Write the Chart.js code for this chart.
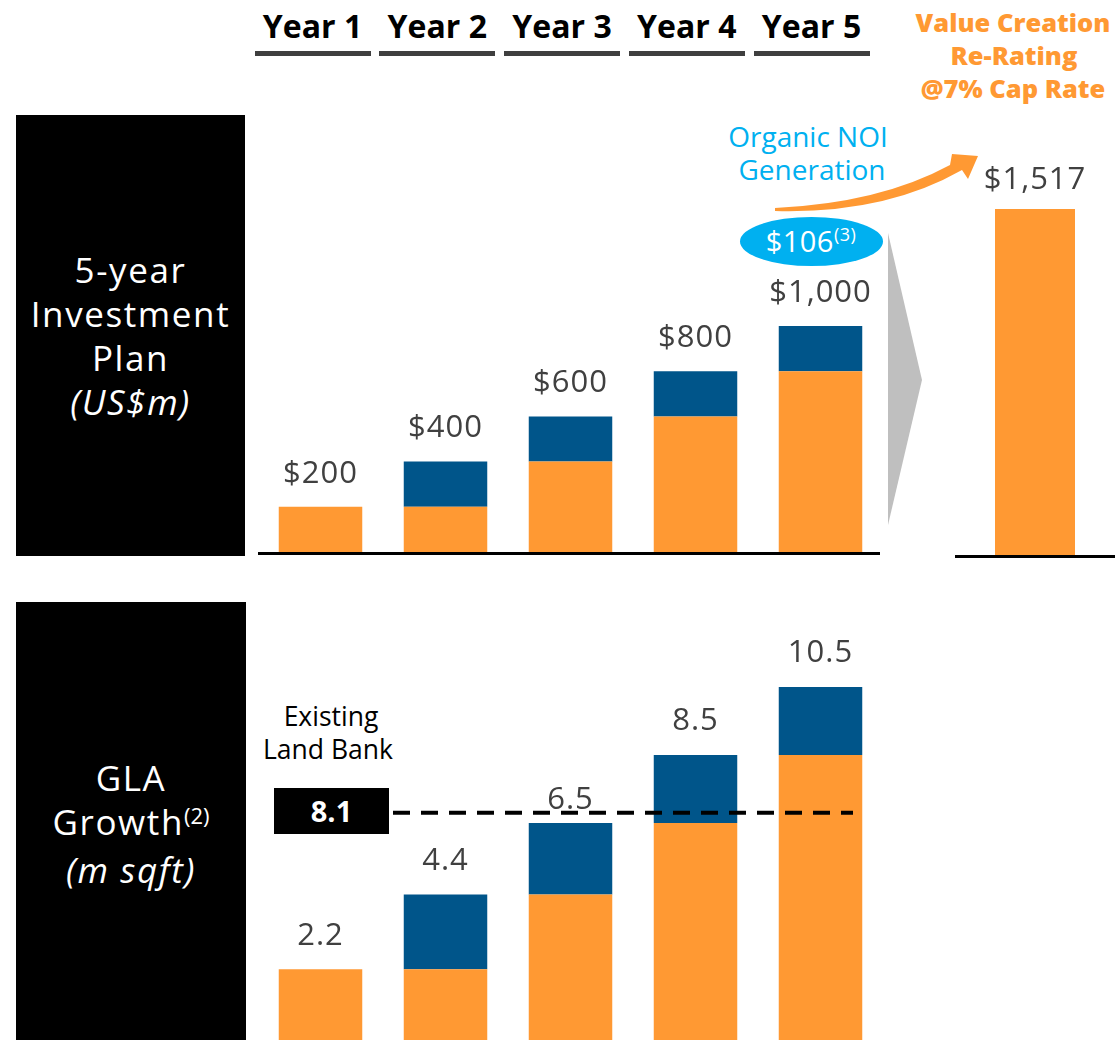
<!DOCTYPE html>
<html>
<head>
<meta charset="utf-8">
<script src="https://cdn.jsdelivr.net/npm/chart.js@4.4.1/dist/chart.umd.min.js"></script>
<style>
  html, body { margin:0; padding:0; width:1115px; height:1040px; overflow:hidden; background:#fff; }
  body { position:relative; font-family:"Open Sans", "Noto Sans", sans-serif; }
  .abs { position:absolute; }
  .yearHead { position:absolute; top:6px; width:130px; text-align:center; font-weight:700; font-size:32px; line-height:40px; color:#000; }
  .yearLine { position:absolute; top:51px; width:116px; height:5px; background:#3f3f3f; }
  .blackBox { position:absolute; background:#000; color:#fff; display:flex; flex-direction:column; justify-content:center; align-items:center; text-align:center; font-size:35px; line-height:44px; letter-spacing:1.6px; }
  .blackBox sup { font-size:22px; letter-spacing:0; vertical-align:0; position:relative; top:-11px; }
  canvas { position:absolute; }
</style>
</head>
<body>
<script>
// ---------------- DATA ----------------
const categories = ["Year 1", "Year 2", "Year 3", "Year 4", "Year 5"];
// 5-year investment plan (US$m)
const investBase = [200, 200, 400, 600, 800];
const investAdd  = [0, 200, 200, 200, 200];
// Value creation re-rating @7% cap rate (US$m)
const reratingCategories = ["Value Creation"];
const reratingValue = [1517];
// Organic NOI generation (US$m)
const organicNOI = 106;
// GLA growth (m sqft)
const glaBase = [2.2, 2.2, 4.4, 6.5, 8.5];
const glaAdd  = [0, 2.2, 2.1, 2.0, 2.0];
// Existing land bank (m sqft) and the level where its dashed marker is drawn
const landBankValue = 8.1;
const landBankLineLevel = 6.8;
</script>

<!-- Year headers -->
<div id="heads"></div>

<!-- Black side boxes -->
<div class="blackBox" style="left:16px;top:115px;width:229px;height:441px;">
  <div>5-year</div><div>Investment</div><div>Plan</div><div style="font-style:italic;">(US$m)</div>
</div>
<div class="blackBox" style="left:16px;top:602px;width:230px;height:444px;">
  <div>GLA</div><div>Growth<sup>(2)</sup></div><div style="font-style:italic;">(m sqft)</div>
</div>

<!-- Decorations (triangle, arrow, ellipse) -->
<svg class="abs" style="left:0;top:0;" width="1115" height="1040">
  <polygon points="888,233 922,380 888,525" fill="#BFBFBF"/>
  <path d="M 775 208 Q 880 203 950 165 L 952 154 L 978 156 L 968 179 L 962 170 Q 885 214 775 211 Z" fill="#FF9933"/>
  <ellipse cx="811.5" cy="241.5" rx="71.5" ry="24.5" fill="#00B0F0"/>
  <text id="noiText" x="811" y="252" text-anchor="middle" fill="#fff" font-family="Open Sans" font-size="29" letter-spacing="0.5"></text>
  <text x="808" y="147" text-anchor="middle" fill="#00B0F0" font-family="Open Sans" font-size="28">Organic NOI</text>
  <text x="812" y="180" text-anchor="middle" fill="#00B0F0" font-family="Open Sans" font-size="28">Generation</text>
  <text x="1013" y="32" text-anchor="middle" fill="#FF9933" font-family="Open Sans" font-weight="800" font-size="25.5">Value Creation</text>
  <text x="1014" y="65" text-anchor="middle" fill="#FF9933" font-family="Open Sans" font-weight="800" font-size="25.5">Re-Rating</text>
  <text x="1013" y="98" text-anchor="middle" fill="#FF9933" font-family="Open Sans" font-weight="800" font-size="25.5">@7% Cap Rate</text>
  <text x="331" y="726" text-anchor="middle" fill="#000" font-family="Open Sans" font-size="26.5">Existing</text>
  <text x="328" y="759" text-anchor="middle" fill="#000" font-family="Open Sans" font-size="26.5">Land Bank</text>
</svg>

<canvas id="topChart" width="625" height="456" style="left:258px;top:100px;"></canvas>
<canvas id="rightChart" width="160" height="461" style="left:955px;top:99px;"></canvas>
<canvas id="botChart" width="625" height="442" style="left:258px;top:602px;"></canvas>

<!-- Land bank box -->
<div id="landBox" class="abs" style="left:274px;top:788px;width:115px;height:46px;background:#000;color:#fff;font-weight:700;font-size:29px;line-height:46px;text-align:center;"></div>

<script>
// headers
const heads = document.getElementById('heads');
categories.forEach((c, i) => {
  const cx = 312.5 + 124.75 * i;
  const d = document.createElement('div');
  d.className = 'yearHead'; d.textContent = c; d.style.left = (cx - 65) + 'px';
  heads.appendChild(d);
  const l = document.createElement('div');
  l.className = 'yearLine'; l.style.left = (cx - 58) + 'px';
  heads.appendChild(l);
});
document.getElementById('landBox').textContent = landBankValue.toFixed(1);
const noi = document.getElementById('noiText');
noi.innerHTML = '$' + organicNOI + '<tspan font-size="18" dy="-11">(3)</tspan>';

const ORANGE = '#FF9933', BLUE = '#00558A', LABEL = '#404040';

const valueLabels = {
  id: 'valueLabels',
  afterDatasetsDraw(chart, args, opts) {
    const { ctx } = chart;
    const xs = chart.scales.x, ys = chart.scales.y;
    ctx.save();
    ctx.font = opts.font;
    ctx.fillStyle = opts.color;
    ctx.textAlign = 'center';
    ctx.textBaseline = 'middle';
    ctx.letterSpacing = opts.letterSpacing || '0px';
    opts.totals.forEach((t, i) => {
      const px = xs.getPixelForValue(i);
      const py = ys.getPixelForValue(t) - opts.offsets[i];
      ctx.fillText(opts.format(t), px, py);
    });
    ctx.restore();
  }
};

const baseLine = {
  id: 'baseLine',
  afterDatasetsDraw(chart, args, opts) {
    if (!opts.show) return;
    const { ctx, chartArea } = chart;
    ctx.save();
    ctx.strokeStyle = '#000';
    ctx.lineWidth = opts.width;
    ctx.beginPath();
    const y = chartArea.bottom + opts.width / 2;
    ctx.moveTo(chartArea.left, y);
    ctx.lineTo(chartArea.right - (opts.trimRight || 0), y);
    ctx.stroke();
    ctx.restore();
  }
};

const dashLine = {
  id: 'dashLine',
  afterDraw(chart, args, opts) {
    if (!opts.show) return;
    const { ctx } = chart;
    const y = chart.scales.y.getPixelForValue(opts.level);
    ctx.save();
    ctx.strokeStyle = '#000';
    ctx.lineWidth = 4;
    ctx.setLineDash([17, 11]);
    ctx.beginPath();
    ctx.moveTo(opts.x0, y);
    ctx.lineTo(opts.x1, y);
    ctx.stroke();
    ctx.restore();
  }
};

Chart.register(valueLabels, baseLine, dashLine);

function stackedOptions(max, padBottom, labelOpts, extra) {
  return {
    responsive: false,
    animation: false,
    events: [],
    layout: { padding: { top: 0, bottom: padBottom, left: 0, right: 0 } },
    scales: {
      x: { display: false, stacked: true },
      y: { display: false, stacked: true, min: 0, max: max }
    },
    plugins: Object.assign({
      legend: { display: false },
      tooltip: { enabled: false },
      valueLabels: labelOpts,
      baseLine: { show: false },
      dashLine: { show: false }
    }, extra || {})
  };
}

const investTotals = investBase.map((v, i) => v + investAdd[i]);
const fmtMoney = v => '$' + v.toLocaleString('en-US');

new Chart(document.getElementById('topChart'), {
  type: 'bar',
  data: {
    labels: categories,
    datasets: [
      { data: investBase, backgroundColor: ORANGE, barPercentage: 0.668, categoryPercentage: 1 },
      { data: investAdd, backgroundColor: BLUE, barPercentage: 0.668, categoryPercentage: 1 }
    ]
  },
  options: stackedOptions(2000, 4, {
    totals: investTotals, offsets: [33, 33, 33, 33, 33], format: fmtMoney,
    font: '31px "Open Sans"', color: LABEL, letterSpacing: '1px'
  }, { baseLine: { show: true, width: 3, trimRight: 3 } })
});

new Chart(document.getElementById('rightChart'), {
  type: 'bar',
  data: {
    labels: reratingCategories,
    datasets: [
      { data: reratingValue, backgroundColor: ORANGE, barPercentage: 0.5, categoryPercentage: 1 }
    ]
  },
  options: stackedOptions(2000, 5, {
    totals: reratingValue, offsets: [29], format: fmtMoney,
    font: '31px "Open Sans"', color: LABEL, letterSpacing: '1px'
  }, { baseLine: { show: true, width: 3, trimRight: 0 } })
});

const glaTotals = glaBase.map((v, i) => Math.round((v + glaAdd[i]) * 10) / 10);
new Chart(document.getElementById('botChart'), {
  type: 'bar',
  data: {
    labels: categories,
    datasets: [
      { data: glaBase, backgroundColor: ORANGE, barPercentage: 0.668, categoryPercentage: 1 },
      { data: glaAdd, backgroundColor: BLUE, barPercentage: 0.668, categoryPercentage: 1 }
    ]
  },
  options: stackedOptions(13, 0, {
    totals: glaTotals, offsets: [33, 33, 23, 34, 34], format: v => v.toFixed(1),
    font: '31px "Open Sans"', color: LABEL, letterSpacing: '1px'
  }, { dashLine: { show: true, level: landBankLineLevel, x0: 135, x1: 595 } })
});
</script>
</body>
</html>
